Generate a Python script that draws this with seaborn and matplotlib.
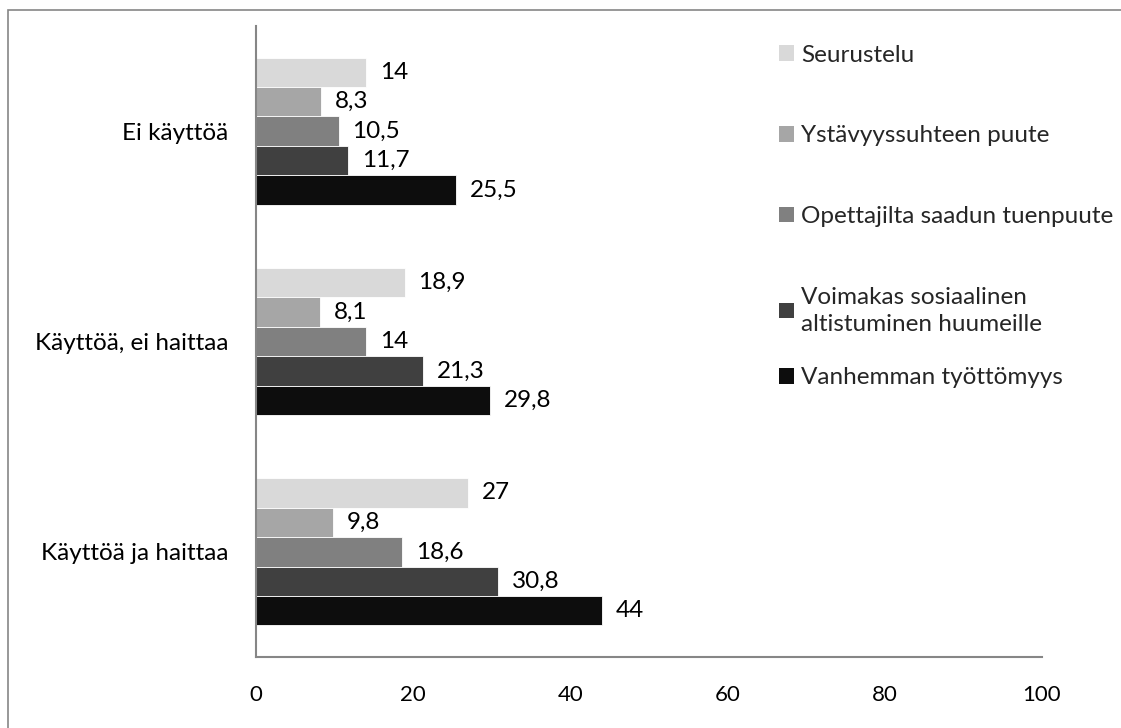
import matplotlib
matplotlib.use("Agg")
import matplotlib.pyplot as plt
from matplotlib.patches import Rectangle
import seaborn as sns
import pandas as pd

# Groups (rows of the chart) and the series drawn inside each group
groups = ["Ei käyttöä", "Käyttöä, ei haittaa", "Käyttöä ja haittaa"]
series = [
    "Seurustelu",
    "Ystävyyssuhteen puute",
    "Opettajilta saadun tuenpuute",
    "Voimakas sosiaalinen\naltistuminen huumeille",
    "Vanhemman työttömyys",
]
seurustelu = [14, 18.9, 27]
ystavyys = [8.3, 8.1, 9.8]
opettajat = [10.5, 14, 18.6]
altistuminen = [11.7, 21.3, 30.8]
tyottomyys = [25.5, 29.8, 44]
x_ticks = [0, 20, 40, 60, 80, 100]

colors = ["#D9D9D9", "#A6A6A6", "#808080", "#404040", "#0D0D0D"]

values = [seurustelu, ystavyys, opettajat, altistuminen, tyottomyys]
df = pd.DataFrame(
    [(g, s, v[i]) for s, v in zip(series, values) for i, g in enumerate(groups)],
    columns=["ryhma", "tekija", "osuus"],
)

sns.set_theme(style="white")
plt.rcParams["font.family"] = ["Lato", "DejaVu Sans"]

fig = plt.figure(figsize=(11.21, 7.28), dpi=100)
ax = fig.add_axes([0.2284, 0.0975, 0.9295 - 0.2284, 0.9643 - 0.0975])

sns.barplot(
    data=df, y="ryhma", x="osuus", hue="tekija",
    order=groups, hue_order=series, palette=colors,
    orient="h", width=0.7, edgecolor="white", linewidth=0.6,
    errorbar=None, ax=ax, legend=True,
)

for cont in ax.containers:
    ax.bar_label(
        cont,
        labels=[f"{b.get_width():g}".replace(".", ",") for b in cont],
        padding=10, fontsize=17.5, color="black",
    )

ax.set_xlim(0, 100)
ax.set_ylim(2.5, -0.5)
ax.set_xticks(x_ticks)
ax.set_xticklabels([str(t) for t in x_ticks])
ax.set_xlabel("")
ax.set_ylabel("")
ax.tick_params(axis="x", length=0, pad=20, labelsize=16, labelcolor="black")
ax.tick_params(axis="y", length=0, pad=20, labelsize=17.5, labelcolor="black")

for side in ["top", "right"]:
    ax.spines[side].set_visible(False)
for side in ["left", "bottom"]:
    ax.spines[side].set_color("#868686")
    ax.spines[side].set_linewidth(1.5)

# Legend: evenly spaced slots; the wrapped entry spills below its slot,
# so the last entry gets its own legend block at the next slot.
handles, labels = ax.get_legend_handles_labels()
ax.get_legend().remove()
for h in handles:
    h.set_edgecolor("none")
legend_kw = dict(
    loc="upper left", frameon=False, fontsize=17.5, labelspacing=2.45,
    handlelength=0.62, handleheight=0.62, handletextpad=0.3, borderpad=0,
)
leg_top = fig.legend(handles[:4], labels[:4], bbox_to_anchor=(0.684, 0.955), **legend_kw)
for t in leg_top.get_texts():
    t.set_linespacing(1.35)
fig.legend(handles[4:], labels[4:], bbox_to_anchor=(0.684, 0.512), **legend_kw)

# Outer chart-area frame
fig.patches.append(Rectangle(
    (8 / 1121, -0.2), 1.2, 1.2 - 10 / 728,
    transform=fig.transFigure, fill=False, edgecolor="#868686",
    linewidth=1.2, zorder=0,
))

fig.savefig("out.png", dpi=100, facecolor="white")
